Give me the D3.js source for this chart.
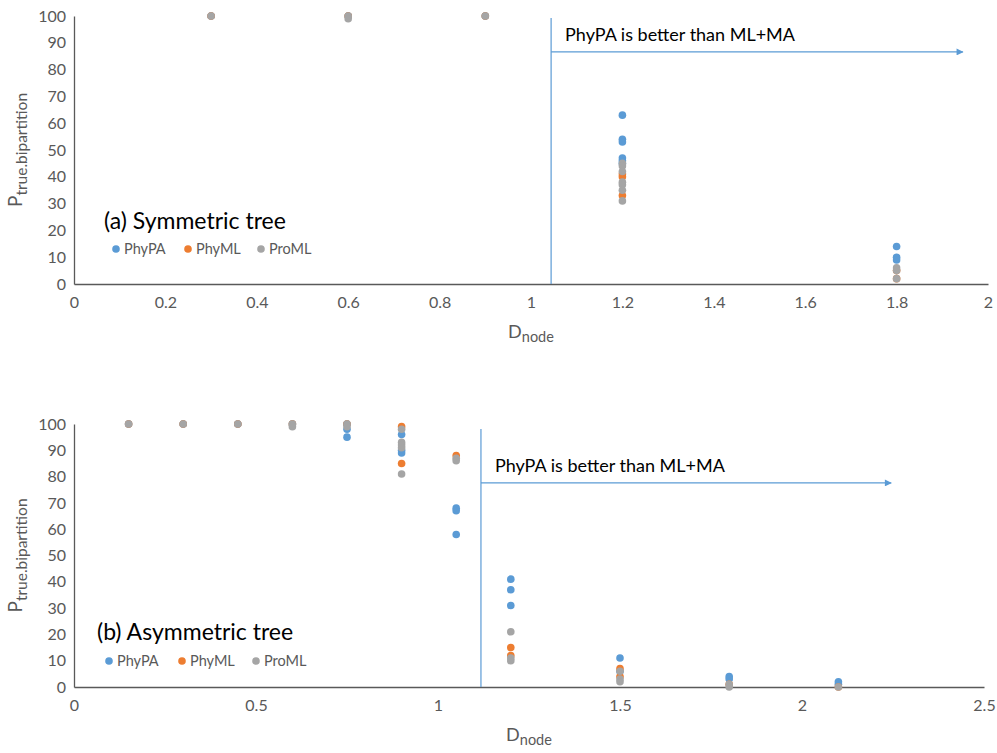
<!DOCTYPE html>
<html>
<head>
<meta charset="utf-8">
<script src="https://cdn.jsdelivr.net/npm/d3@7"></script>
<style>
  html, body { margin: 0; padding: 0; background: #fff; }
  svg { display: block; font-family: Lato, "Open Sans", "Liberation Sans", sans-serif; }
</style>
</head>
<body>
<svg id="chart" width="997" height="753"></svg>
<script>
// Series names and colours
const seriesNames = ["PhyPA", "PhyML", "ProML"];
const seriesColors = ["#5B9BD5", "#ED7D31", "#A5A5A5"];

// (a) Symmetric tree: [D_node, P_true.bipartition]
const symPhyPA = [[0.3,100],[0.6,100],[0.9,100],[1.2,63],[1.2,54],[1.2,53],[1.2,47],[1.2,46],[1.2,45],[1.8,14],[1.8,10],[1.8,9]];
const symPhyML = [[0.3,100],[0.6,100],[0.9,100],[1.2,41],[1.2,40],[1.2,33],[1.8,5],[1.8,2]];
const symProML = [[0.3,100],[0.6,100],[0.6,99],[0.9,100],[1.2,45],[1.2,44],[1.2,42],[1.2,38],[1.2,37],[1.2,35],[1.2,31],[1.8,6],[1.8,5],[1.8,2]];

// (b) Asymmetric tree
const asymPhyPA = [[0.15,100],[0.3,100],[0.45,100],[0.6,100],[0.75,100],[0.75,98],[0.75,95],[0.9,96],[0.9,90],[0.9,89],[1.05,68],[1.05,67],[1.05,58],[1.2,41],[1.2,37],[1.2,31],[1.5,11],[1.5,6],[1.8,4],[1.8,3],[2.1,2],[2.1,1]];
const asymPhyML = [[0.15,100],[0.3,100],[0.45,100],[0.6,100],[0.75,100],[0.9,99],[0.9,85],[1.05,88],[1.2,15],[1.2,12],[1.5,7],[1.5,4],[1.8,1],[2.1,0]];
const asymProML = [[0.15,100],[0.3,100],[0.45,100],[0.6,100],[0.6,99],[0.75,100],[0.75,99],[0.9,98],[0.9,93],[0.9,92],[0.9,91],[0.9,81],[1.05,87],[1.05,86],[1.2,21],[1.2,11],[1.2,10],[1.5,6],[1.5,3],[1.5,2],[1.8,1],[1.8,0],[2.1,0]];

// Tick values
const yTicks = [0,10,20,30,40,50,60,70,80,90,100];
const symXTicks = [0,0.2,0.4,0.6,0.8,1,1.2,1.4,1.6,1.8,2];
const asymXTicks = [0,0.5,1,1.5,2,2.5];

// Annotation: divider position, arrow level and end (data units)
const symNote = { divider: 1.044, arrowY: 86.6, arrowEnd: 1.945, text: "PhyPA is better than ML+MA" };
const asymNote = { divider: 1.118, arrowY: 77.6, arrowEnd: 2.245, text: "PhyPA is better than ML+MA" };

const svg = d3.select("#chart");

const defs = svg.append("defs");
defs.append("marker")
  .attr("id", "arrowhead")
  .attr("viewBox", "0 0 10 10")
  .attr("refX", 9).attr("refY", 5)
  .attr("markerWidth", 9).attr("markerHeight", 7)
  .attr("markerUnits", "userSpaceOnUse")
  .attr("orient", "auto")
  .append("path").attr("d", "M0,0 L10,5 L0,10 Z").attr("fill", "#5B9BD5");

function drawPanel(cfg) {
  const g = svg.append("g");
  const x = d3.scaleLinear().domain(cfg.xDomain).range([cfg.left, cfg.right]);
  const y = d3.scaleLinear().domain([0, 100]).range([cfg.bottom, cfg.top]);

  // y axis
  const yAxis = g.append("g").attr("transform", `translate(${cfg.left},0)`)
    .call(d3.axisLeft(y).tickValues(yTicks).tickSize(0).tickPadding(8));
  yAxis.select(".domain").attr("stroke", "#595959").attr("stroke-width", 1.3);
  yAxis.selectAll("text").attr("fill", "#595959").attr("font-size", 16)
    .attr("font-family", "Lato, 'Open Sans', sans-serif");

  // x axis
  const xAxis = g.append("g").attr("transform", `translate(0,${cfg.bottom})`)
    .call(d3.axisBottom(x).tickValues(cfg.xTicks).tickSize(0).tickPadding(13)
      .tickFormat(d3.format("~g")));
  xAxis.select(".domain").attr("stroke", "#595959").attr("stroke-width", 1.3);
  xAxis.selectAll("text").attr("fill", "#595959").attr("font-size", 16)
    .attr("font-family", "Lato, 'Open Sans', sans-serif");

  // axis titles
  const xt = g.append("text").attr("x", (cfg.left + cfg.right) / 2).attr("y", cfg.bottom + 54)
    .attr("text-anchor", "middle").attr("fill", "#595959").attr("font-size", 18);
  xt.append("tspan").text("D");
  xt.append("tspan").attr("dy", 4).attr("font-size", 14.5).text("node");

  const yt = g.append("text")
    .attr("transform", `translate(22,${(cfg.top + cfg.bottom) / 2}) rotate(-90)`)
    .attr("text-anchor", "middle").attr("fill", "#595959").attr("font-size", 19);
  yt.append("tspan").text("P");
  yt.append("tspan").attr("dy", 5).attr("font-size", 15.5).text("true.bipartition");

  // annotation
  const n = cfg.note;
  g.append("line")
    .attr("x1", x(n.divider)).attr("x2", x(n.divider))
    .attr("y1", cfg.dividerTop).attr("y2", cfg.bottom)
    .attr("stroke", "#5B9BD5").attr("stroke-width", 1.2);
  g.append("line")
    .attr("x1", x(n.divider)).attr("x2", x(n.arrowEnd))
    .attr("y1", y(n.arrowY)).attr("y2", y(n.arrowY))
    .attr("stroke", "#5B9BD5").attr("stroke-width", 1.2)
    .attr("marker-end", "url(#arrowhead)");
  g.append("text").attr("x", x(n.divider) + 14).attr("y", y(n.arrowY) - 11)
    .attr("fill", "#000").attr("font-size", 18).text(n.text);

  // points
  cfg.series.forEach((data, i) => {
    g.append("g").selectAll("circle").data(data).join("circle")
      .attr("cx", d => x(d[0])).attr("cy", d => y(d[1]))
      .attr("r", 3.8).attr("fill", seriesColors[i]);
  });

  // panel title
  g.append("text").attr("x", cfg.titleX).attr("y", cfg.titleY)
    .attr("fill", "#000").attr("font-size", 23).text(cfg.title);

  // legend
  const lg = g.append("g");
  seriesNames.forEach((name, i) => {
    const lx = cfg.legendX[i];
    lg.append("circle").attr("cx", lx).attr("cy", cfg.legendY).attr("r", 3.8).attr("fill", seriesColors[i]);
    lg.append("text").attr("x", lx + 8).attr("y", cfg.legendY + 5)
      .attr("fill", "#595959").attr("font-size", 14.5).text(name);
  });
}

drawPanel({
  xDomain: [0, 2], xTicks: symXTicks,
  left: 74, right: 988, top: 16, bottom: 284, dividerTop: 18,
  note: symNote,
  series: [symPhyPA, symPhyML, symProML],
  title: "(a) Symmetric tree", titleX: 104, titleY: 229,
  legendX: [116, 188, 261], legendY: 249
});

drawPanel({
  xDomain: [0, 2.5], xTicks: asymXTicks,
  left: 74, right: 984, top: 424, bottom: 687, dividerTop: 429,
  note: asymNote,
  series: [asymPhyPA, asymPhyML, asymProML],
  title: "(b) Asymmetric tree", titleX: 97, titleY: 640,
  legendX: [109, 182, 256], legendY: 661
});
</script>
</body>
</html>
